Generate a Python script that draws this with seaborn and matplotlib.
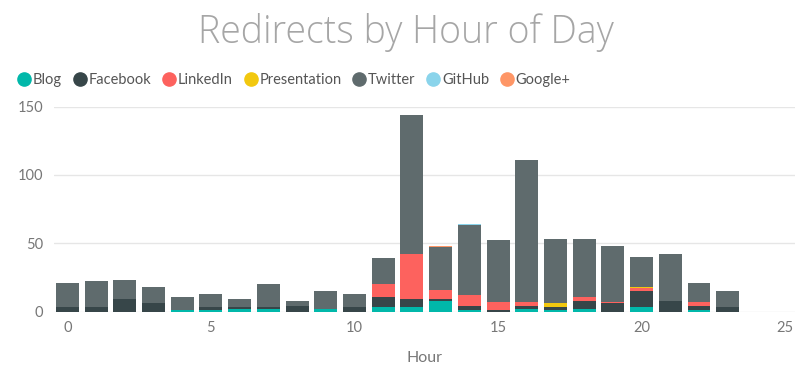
import numpy as np
import pandas as pd
import matplotlib
matplotlib.use("Agg")
import matplotlib.pyplot as plt
from matplotlib.lines import Line2D
import seaborn as sns

# Redirect counts per hour, one list per source
hours = list(range(24))
blog         = [0, 0, 0, 0, 1, 1, 2, 2, 0, 2, 0, 3, 3, 8, 1, 0, 2, 1, 2, 0, 3, 0, 1, 0]
facebook     = [3, 3, 9, 6, 0, 2, 1, 1, 4, 0, 3, 8, 6, 1, 3, 1, 2, 2, 6, 6, 12, 8, 3, 3]
linkedin     = [0, 0, 0, 0, 0, 0, 0, 0, 0, 0, 0, 9, 33, 7, 8, 6, 3, 0, 3, 1, 2, 0, 3, 0]
presentation = [0, 0, 0, 0, 0, 0, 0, 0, 0, 0, 0, 0, 0, 0, 0, 0, 0, 3, 0, 0, 1, 0, 0, 0]
twitter      = [18, 19, 14, 12, 10, 10, 6, 17, 4, 13, 10, 19, 102, 31, 51, 45, 104, 47, 42, 41, 22, 34, 14, 12]
github       = [0, 0, 0, 0, 0, 0, 0, 0, 0, 0, 0, 0, 0, 0, 1, 0, 0, 0, 0, 0, 0, 0, 0, 0]
google_plus  = [0, 0, 0, 0, 0, 0, 0, 0, 0, 0, 0, 0, 0, 1, 0, 0, 0, 0, 0, 0, 0, 0, 0, 0]

sources = ["Blog", "Facebook", "LinkedIn", "Presentation", "Twitter", "GitHub", "Google+"]
colors = ["#01B8AA", "#374649", "#FD625E", "#F2C80F", "#5F6B6D", "#8AD4EB", "#FE9666"]
series = [blog, facebook, linkedin, presentation, twitter, github, google_plus]

df = pd.DataFrame({"hour": hours})
for name, vals in zip(sources, series):
    df[name] = vals

sns.set_style("white")
plt.rcParams["font.family"] = ["Lato", "DejaVu Sans"]

fig = plt.figure(figsize=(8, 3.74), dpi=100)
ax = fig.add_axes([0.068, 0.167, 0.926, 0.548])

# stacked bars, bottom to top in legend order
bottom = np.zeros(len(hours))
for name, c in zip(sources, colors):
    sns.barplot(data=df, x="hour", y=name, color=c, native_scale=True,
                width=0.8, bottom=bottom, linewidth=0, errorbar=None,
                saturation=1, ax=ax)
    bottom = bottom + df[name].values

ax.set_xlim(-0.45, 25.35)
ax.set_ylim(0, 150)
ax.set_xticks([0, 5, 10, 15, 20, 25])
ax.set_yticks([0, 50, 100, 150])
ax.yaxis.grid(True, color="#e6e6e6", linewidth=1)
ax.xaxis.grid(False)
ax.set_axisbelow(True)
for s in ax.spines.values():
    s.set_visible(False)
ax.tick_params(axis="both", length=0, labelsize=10.5, labelcolor="#777777")
ax.tick_params(axis="y", pad=8)
ax.tick_params(axis="x", pad=7)
ax.set_ylabel("")
ax.set_xlabel("Hour", fontsize=11.5, color="#777777", labelpad=11)

fig.text(0.508, 0.912, "Redirects by Hour of Day", ha="center", va="center",
         fontsize=27, color="#a6a6a6", fontweight="light",
         family=["Open Sans", "DejaVu Sans"])

handles = [Line2D([], [], marker="o", linestyle="", markersize=9.5,
                  markerfacecolor=c, markeredgecolor=c) for c in colors]
fig.legend(handles, sources, loc="center left", bbox_to_anchor=(0.014, 0.786),
           ncol=7, frameon=False, fontsize=10.5, labelcolor="#555555",
           handletextpad=0.1, columnspacing=0.72, handlelength=1.0, borderaxespad=0)

fig.savefig("out.png", dpi=100)
